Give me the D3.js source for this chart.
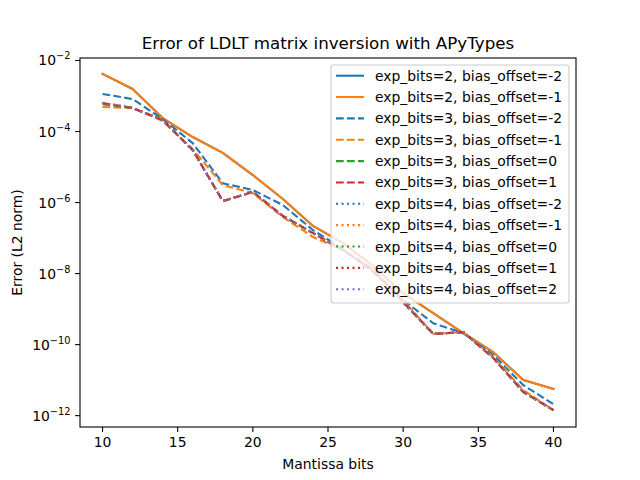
<!DOCTYPE html>
<html>
<head>
<meta charset="utf-8">
<script src="https://cdn.jsdelivr.net/npm/d3@7"></script>
<style>
  body { margin: 0; background: #fff; }
  text { font-family: "DejaVu Sans", sans-serif; fill: #000; }
</style>
</head>
<body>
<svg id="chart" width="640" height="480"></svg>
<script>
// x values
const mantissaBits = [10, 12, 14, 16, 18, 20, 22, 24, 26, 28, 30, 32, 34, 36, 38, 40];

// error values
const exp2_bm2 = [4.2e-3, 1.57e-3, 2.4e-4, 7.0e-5, 2.5e-5, 5.95e-6, 1.26e-6, 2.2e-7, 7.2e-8, 1.63e-8, 2.8e-9, 7.7e-10, 2.1e-10, 6.1e-11, 1.0e-11, 5.6e-12];
const exp2_bm1 = [4.2e-3, 1.57e-3, 2.4e-4, 7.0e-5, 2.5e-5, 5.95e-6, 1.26e-6, 2.2e-7, 7.2e-8, 1.63e-8, 2.8e-9, 7.7e-10, 2.1e-10, 6.1e-11, 1.0e-11, 5.6e-12];
const exp3_bm2 = [1.14e-3, 8.2e-4, 2.25e-4, 4.7e-5, 3.5e-6, 2.25e-6, 8.5e-7, 1.68e-7, 4.9e-8, 1.1e-8, 1.8e-9, 4.0e-10, 2.1e-10, 5.1e-11, 7.2e-12, 2.1e-12];
const exp3_bm1 = [4.9e-4, 4.6e-4, 1.98e-4, 3.2e-5, 3.1e-6, 1.85e-6, 3.9e-7, 1.07e-7, 4.6e-8, 1.26e-8, 1.8e-9, 2.0e-10, 2.25e-10, 4.4e-11, 5.2e-12, 1.43e-12];
const exp3_b0 = [5.9e-4, 4.6e-4, 2.1e-4, 3.0e-5, 1.1e-6, 1.98e-6, 4.2e-7, 1.38e-7, 4.6e-8, 1.26e-8, 1.57e-9, 2.0e-10, 2.25e-10, 4.2e-11, 4.6e-12, 1.43e-12];
const exp3_b1 = [6.35e-4, 4.6e-4, 2.1e-4, 3.0e-5, 1.1e-6, 1.98e-6, 4.2e-7, 1.38e-7, 4.6e-8, 1.26e-8, 1.57e-9, 2.0e-10, 2.25e-10, 4.2e-11, 4.6e-12, 1.43e-12];
const exp4_bm2 = [6.35e-4, 4.6e-4, 2.1e-4, 3.0e-5, 1.1e-6, 1.98e-6, 4.2e-7, 1.38e-7, 4.6e-8, 1.26e-8, 1.57e-9, 2.0e-10, 2.25e-10, 4.2e-11, 4.6e-12, 1.43e-12];
const exp4_bm1 = [6.35e-4, 4.6e-4, 2.1e-4, 3.0e-5, 1.1e-6, 1.98e-6, 4.2e-7, 1.38e-7, 4.6e-8, 1.26e-8, 1.57e-9, 2.0e-10, 2.25e-10, 4.2e-11, 4.6e-12, 1.43e-12];
const exp4_b0 = [6.35e-4, 4.6e-4, 2.1e-4, 3.0e-5, 1.1e-6, 1.98e-6, 4.2e-7, 1.38e-7, 4.6e-8, 1.26e-8, 1.57e-9, 2.0e-10, 2.25e-10, 4.2e-11, 4.6e-12, 1.43e-12];
const exp4_b1 = [6.35e-4, 4.6e-4, 2.1e-4, 3.0e-5, 1.1e-6, 1.98e-6, 4.2e-7, 1.38e-7, 4.6e-8, 1.26e-8, 1.57e-9, 2.0e-10, 2.25e-10, 4.2e-11, 4.6e-12, 1.43e-12];
const exp4_b2 = [6.35e-4, 4.6e-4, 2.1e-4, 3.0e-5, 1.1e-6, 1.98e-6, 4.2e-7, 1.38e-7, 4.6e-8, 1.26e-8, 1.57e-9, 2.0e-10, 2.25e-10, 4.2e-11, 4.6e-12, 1.43e-12];

const seriesLabels = [
  "exp_bits=2, bias_offset=-2", "exp_bits=2, bias_offset=-1",
  "exp_bits=3, bias_offset=-2", "exp_bits=3, bias_offset=-1",
  "exp_bits=3, bias_offset=0", "exp_bits=3, bias_offset=1",
  "exp_bits=4, bias_offset=-2", "exp_bits=4, bias_offset=-1",
  "exp_bits=4, bias_offset=0", "exp_bits=4, bias_offset=1",
  "exp_bits=4, bias_offset=2"
];
const seriesValues = [exp2_bm2, exp2_bm1, exp3_bm2, exp3_bm1, exp3_b0, exp3_b1,
  exp4_bm2, exp4_bm1, exp4_b0, exp4_b1, exp4_b2];

const xTicks = [10, 15, 20, 25, 30, 35, 40];
const yTickExps = [-2, -4, -6, -8, -10, -12];

// styling
const colors = ["#1f77b4", "#ff7f0e", "#1f77b4", "#ff7f0e", "#2ca02c", "#d62728",
  "#1f77b4", "#ff7f0e", "#2ca02c", "#d62728", "#9467bd"];
const dashes = ["none", "none", "7.7,3.3", "7.7,3.3", "7.7,3.3", "7.7,3.3",
  "2.1,3.4", "2.1,3.4", "2.1,3.4", "2.1,3.4", "2.1,3.4"];

const svg = d3.select("#chart");
const axL = 80, axR = 576, axT = 58, axB = 427;

const x = d3.scaleLinear().domain([8.5, 41.5]).range([axL, axR]);
const y = d3.scaleLog().domain([Math.pow(10, -12.32), Math.pow(10, -1.93)]).range([axB, axT]);

svg.append("defs").append("clipPath").attr("id", "clip")
  .append("rect").attr("x", axL).attr("y", axT)
  .attr("width", axR - axL).attr("height", axB - axT);

const line = d3.line().x((d, i) => x(mantissaBits[i])).y(d => y(d));

const plot = svg.append("g").attr("clip-path", "url(#clip)");
seriesValues.forEach((vals, k) => {
  plot.append("path")
    .datum(vals)
    .attr("d", line)
    .attr("fill", "none")
    .attr("stroke", colors[k])
    .attr("stroke-width", 2.08)
    .attr("stroke-dasharray", dashes[k])
    .attr("stroke-linejoin", "round")
    .attr("stroke-linecap", dashes[k] === "none" ? "square" : "butt");
});

// axes frame
svg.append("rect")
  .attr("x", axL).attr("y", axT)
  .attr("width", axR - axL).attr("height", axB - axT)
  .attr("fill", "none").attr("stroke", "#000").attr("stroke-width", 1.1);

// x ticks
const xAxis = svg.append("g");
xTicks.forEach(t => {
  xAxis.append("line")
    .attr("x1", x(t)).attr("x2", x(t))
    .attr("y1", axB).attr("y2", axB + 4.9)
    .attr("stroke", "#000").attr("stroke-width", 1.1);
  xAxis.append("text")
    .attr("x", x(t)).attr("y", axB + 19.5)
    .attr("text-anchor", "middle")
    .style("font-size", "13.9px")
    .text(t);
});

// y ticks with superscripts
const yAxis = svg.append("g");
yTickExps.forEach(e => {
  const yy = y(Math.pow(10, e));
  yAxis.append("line")
    .attr("x1", axL - 4.9).attr("x2", axL)
    .attr("y1", yy).attr("y2", yy)
    .attr("stroke", "#000").attr("stroke-width", 1.1);
  const t = yAxis.append("text")
    .attr("x", axL - 9.5).attr("y", yy + 5)
    .attr("text-anchor", "end")
    .style("font-size", "13.9px");
  t.append("tspan").text("10");
  t.append("tspan").attr("dy", -6).style("font-size", "9.8px").text("\u2212" + Math.abs(e));
});

// labels
svg.append("text")
  .attr("x", (axL + axR) / 2).attr("y", 469)
  .attr("text-anchor", "middle")
  .style("font-size", "13.9px")
  .text("Mantissa bits");

svg.append("text")
  .attr("transform", `translate(22, ${(axT + axB) / 2}) rotate(-90)`)
  .attr("text-anchor", "middle")
  .style("font-size", "13.9px")
  .text("Error (L2 norm)");

svg.append("text")
  .attr("x", (axL + axR) / 2).attr("y", 49)
  .attr("text-anchor", "middle")
  .style("font-size", "16.7px")
  .text("Error of LDLT matrix inversion with APyTypes");

// legend
const lg = svg.append("g");
const lgX = 331, lgY = 65, lgW = 238, lgH = 238, rowH = 21.35;
lg.append("rect")
  .attr("x", lgX).attr("y", lgY).attr("width", lgW).attr("height", lgH)
  .attr("rx", 3)
  .attr("fill", "#fff").attr("fill-opacity", 0.8)
  .attr("stroke", "#cccccc").attr("stroke-width", 1.1);
seriesLabels.forEach((lab, k) => {
  const cy = 75.7 + k * rowH;
  lg.append("line")
    .attr("x1", 336).attr("x2", 364)
    .attr("y1", cy).attr("y2", cy)
    .attr("stroke", colors[k])
    .attr("stroke-width", 2.08)
    .attr("stroke-dasharray", dashes[k]);
  lg.append("text")
    .attr("x", 375).attr("y", cy + 5)
    .style("font-size", "13.9px")
    .text(lab);
});
</script>
</body>
</html>
